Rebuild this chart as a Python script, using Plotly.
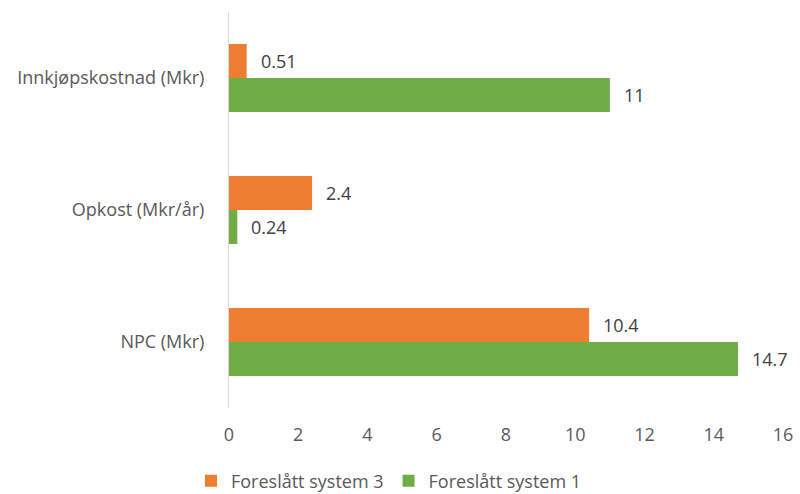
import plotly.graph_objects as go

categories = ["Innkjøpskostnad (Mkr)", "Opkost (Mkr/år)", "NPC (Mkr)"]
system3 = [0.51, 2.4, 10.4]
system1 = [11, 0.24, 14.7]
series_names = ["Foreslått system 3", "Foreslått system 1"]
x_ticks = [0, 2, 4, 6, 8, 10, 12, 14, 16]

ORANGE = "#ED7D31"
GREEN = "#70AD47"
TEXT = "#595959"
FONT = "Open Sans, Noto Sans, sans-serif"
FS = 18

fig = go.Figure()
fig.add_trace(go.Bar(y=categories, x=system3, name=series_names[0], orientation="h",
                     marker=dict(color=ORANGE, line=dict(width=0))))
fig.add_trace(go.Bar(y=categories, x=system1, name=series_names[1], orientation="h",
                     marker=dict(color=GREEN, line=dict(width=0))))

# value labels next to each bar end
bar_px = 34
for vals, shift in ((system3, bar_px / 2), (system1, -bar_px / 2)):
    for cat, v in zip(categories, vals):
        fig.add_annotation(x=v, y=cat, text=str(v), showarrow=False,
                           xanchor="left", yanchor="middle", xshift=12, yshift=shift,
                           font=dict(size=FS, color="#404040", family=FONT))

fig.update_layout(
    width=800, height=494,
    margin=dict(l=229, r=17, t=12, b=86, autoexpand=False),
    paper_bgcolor="white", plot_bgcolor="white",
    barmode="group", bargap=0.485, bargroupgap=0,
    font=dict(family=FONT, size=FS, color=TEXT),
    showlegend=True,
    legend=dict(orientation="h", x=191, xref="paper", xanchor="left",
                yref="container", y=1 - 481 / 494, yanchor="middle",
                font=dict(size=FS, color=TEXT), traceorder="normal",
                itemwidth=30, tracegroupgap=0),
    xaxis=dict(range=[0, 16], tickvals=x_ticks, showgrid=False, zeroline=False,
               showline=False, ticks="", ticklabelstandoff=14, automargin=False,
               tickfont=dict(size=FS, color=TEXT)),
    yaxis=dict(categoryorder="array", categoryarray=categories, autorange="reversed",
               showline=True, linecolor="#D9D9D9", linewidth=1, showgrid=False,
               ticks="", ticklabelstandoff=20, automargin=False,
               tickfont=dict(size=FS, color=TEXT)),
)
fig.update_layout(legend_x=(191 - 229) / 554)

fig.write_html("out.html")
